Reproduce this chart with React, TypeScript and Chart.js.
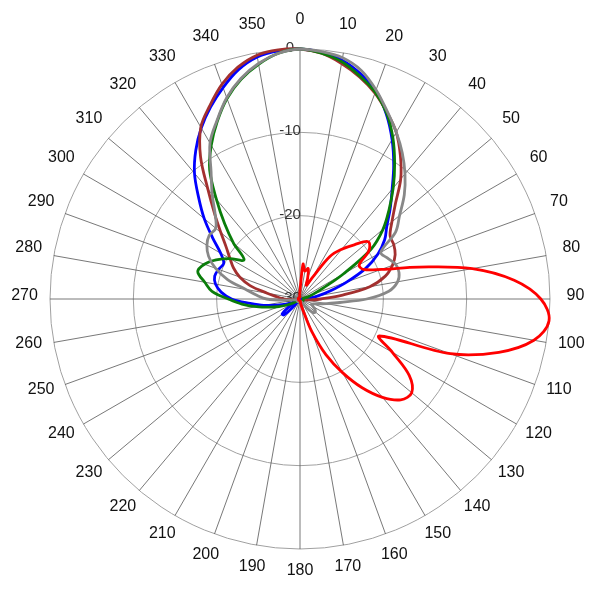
import React, { useEffect, useRef } from "react";
import { Chart, registerables } from "chart.js";

Chart.register(...registerables);

// Azimuth categories (degrees), every 5°
const ANGLES: number[] = Array.from({ length: 72 }, (_, i) => i * 5);

// Spoke labels every 10°
const ANGLE_LABELS: string[] = [
  "0", "10", "20", "30", "40", "50", "60", "70", "80", "90", "100", "110",
  "120", "130", "140", "150", "160", "170", "180", "190", "200", "210", "220", "230",
  "240", "250", "260", "270", "280", "290", "300", "310", "320", "330", "340", "350",
];

// Ring tick labels (dB)
const RING_TICKS: number[] = [0, -10, -20, -30];

// Series values (dB) at 0,5,10,...,355 degrees
const BLUE: number[] = [
  0, -0.3, -0.9, -2.0, -3.4, -5.5, -7.9, -10.4, -12.8, -14.7, -16.4, -17.6,
  -19.2, -21.3, -24.0, -26.2, -27.8, -28.9, -29.4, -29.6, -29.8, -29.8, -29.8, -29.8,
  -29.8, -29.8, -29.8, -29.8, -29.8, -29.8, -29.8, -29.8, -29.8, -29.8, -29.8, -29.8,
  -29.8, -29.8, -29.8, -29.8, -29.8, -29.8, -29.8, -29.8, -29.0, -27.3, -27.2, -28.4,
  -29.4, -29.0, -28.2, -27.2, -25.6, -24.0, -21.8, -20.5, -19.7, -19.4, -19.6, -19.9,
  -19.0, -17.2, -15.0, -12.8, -10.3, -8.2, -6.3, -4.6, -3.0, -1.5, -0.5, -0.1,
];

const GREEN: number[] = [
  0, -0.4, -1.1, -2.3, -3.6, -5.4, -7.7, -10.2, -12.6, -14.9, -17.0, -19.6,
  -24.0, -27.0, -28.3, -29.0, -29.6, -29.6, -29.6, -29.6, -29.6, -29.6, -29.6, -29.6,
  -29.6, -29.6, -29.6, -29.6, -29.6, -29.6, -29.6, -29.6, -29.6, -29.6, -29.6, -29.6,
  -29.6, -29.6, -29.6, -29.6, -29.6, -29.6, -29.6, -29.6, -29.6, -29.6, -29.6, -29.6,
  -29.0, -28.3, -27.3, -26.2, -24.7, -23.0, -21.4, -19.4, -18.4, -17.3, -17.8, -18.9,
  -20.3, -21.8, -19.6, -17.2, -14.4, -11.1, -8.7, -6.5, -4.4, -2.7, -1.4, -0.4,
];

const BROWN: number[] = [
  0, -0.4, -1.3, -2.4, -3.7, -5.3, -6.9, -9.0, -11.2, -13.8, -15.6, -16.8,
  -17.0, -17.4, -18.2, -19.4, -21.5, -25.0, -27.5, -28.7, -29.6, -29.6, -29.6, -29.6,
  -29.6, -29.6, -29.6, -29.6, -29.6, -29.6, -29.6, -29.6, -29.6, -29.6, -29.6, -29.6,
  -29.6, -29.6, -29.6, -29.6, -29.6, -29.6, -29.6, -29.6, -29.6, -29.6, -29.6, -29.6,
  -29.6, -29.6, -29.6, -29.6, -29.6, -29.0, -28.0, -27.3, -26.0, -23.8, -22.3, -21.2,
  -20.3, -19.2, -17.6, -15.5, -12.8, -9.2, -6.2, -4.4, -2.6, -1.2, -0.3, 0,
];

const GRAY: number[] = [
  0, -0.2, -0.6, -1.6, -3.3, -5.2, -6.9, -8.6, -10.4, -12.3, -14.4, -16.0,
  -18.8, -18.4, -17.8, -17.7, -18.1, -19.3, -22.0, -25.2, -26.8, -27.7, -28.3, -28.5,
  -28.2, -27.8, -27.6, -27.7, -28.3, -29.0, -29.6, -29.6, -29.6, -29.6, -29.6, -29.6,
  -29.6, -29.6, -29.6, -29.6, -29.6, -29.6, -29.6, -29.6, -29.6, -29.6, -29.6, -29.6,
  -29.6, -29.6, -29.6, -29.6, -29.6, -28.5, -26.0, -24.8, -23.4, -21.0, -19.2, -17.9,
  -17.1, -16.7, -16.8, -15.6, -13.6, -11.4, -8.4, -6.4, -4.3, -2.6, -1.3, -0.4,
];

const RED: number[] = [
  -29.0, -25.8, -26.6, -26.2, -27.3, -28.2, -27.0, -23.8, -22.2, -20.8, -19.3, -19.9,
  -21.8, -21.6, -19.6, -15.2, -9.0, -4.2, -1.1, 0, -1.5, -5.3, -10.8, -19.5,
  -17.2, -14.0, -12.5, -12.9, -14.6, -17.0, -19.8, -22.6, -25.8, -28.5, -29.3, -29.8,
  -29.8, -29.8, -29.8, -29.8, -29.8, -29.8, -29.8, -29.8, -29.8, -29.8, -29.8, -29.8,
  -29.8, -29.8, -29.8, -29.8, -29.8, -29.8, -29.8, -29.8, -29.8, -29.8, -29.8, -29.8,
  -29.8, -29.8, -29.8, -29.8, -29.8, -29.8, -29.8, -29.8, -29.8, -29.8, -29.8, -29.6,
];

const FONT_FAMILY = '"Liberation Sans", Arial, Helvetica, sans-serif';

const labelPlugin = {
  id: "polarLabels",
  beforeDatasetsDraw(chart: any) {
    const s = chart.scales.r;
    const ctx = chart.ctx;
    ctx.save();
    ctx.font = `15px ${FONT_FAMILY}`;
    ctx.fillStyle = "#333333";
    ctx.textAlign = "center";
    ctx.textBaseline = "middle";
    RING_TICKS.forEach((v) => {
      const p = s.getPointPositionForValue(0, v);
      ctx.fillText(String(v), p.x - 10, p.y - 1);
    });
    ctx.restore();
  },
  afterDraw(chart: any) {
    const s = chart.scales.r;
    const ctx = chart.ctx;
    ctx.save();
    ctx.font = `16px ${FONT_FAMILY}`;
    ctx.fillStyle = "#111111";
    ctx.textAlign = "center";
    ctx.textBaseline = "middle";
    ANGLE_LABELS.forEach((lab, k) => {
      const p = s.getPointPosition(k * 2, s.drawingArea + 25.5);
      ctx.fillText(lab, p.x, p.y - 3.5);
    });
    ctx.restore();
  },
};

export default function App() {
  const ref = useRef<HTMLCanvasElement | null>(null);

  useEffect(() => {
    if (!ref.current) return;
    const mk = (label: string, data: number[], color: string) => ({
      label,
      data,
      borderColor: color,
      backgroundColor: color,
      borderWidth: 2.8,
      pointRadius: 0,
      fill: false,
      tension: 0.35,
    });
    const chart = new Chart(ref.current, {
      type: "radar",
      data: {
        labels: ANGLES.map(String),
        datasets: [
          mk("Red", RED, "#ff0000"),
          mk("Gray", GRAY, "#888888"),
          mk("Green", GREEN, "#0a7d0a"),
          mk("Brown", BROWN, "#a3302f"),
          mk("Blue", BLUE, "#0000ff"),
        ],
      },
      options: {
        responsive: false,
        animation: false,
        layout: { padding: { left: 50, right: 49, top: 49, bottom: 50 } },
        plugins: { legend: { display: false }, tooltip: { enabled: false } },
        scales: {
          r: {
            min: -30,
            max: 0,
            startAngle: 0,
            ticks: { stepSize: 10, display: false },
            pointLabels: { display: false },
            grid: { circular: true, color: "#a0a0a0", lineWidth: 1 },
            angleLines: {
              display: true,
              color: (c: any) => (c.index % 2 === 0 ? "#555555" : "rgba(0,0,0,0)"),
              lineWidth: (c: any) => (c.index % 2 === 0 ? 0.8 : 0),
            },
          },
        },
      },
      plugins: [labelPlugin],
    });
    return () => chart.destroy();
  }, []);

  return (
    <div style={{ position: "absolute", left: 0, top: 0, width: 600, height: 600, background: "#fff" }}>
      <canvas ref={ref} width={600} height={600} style={{ display: "block" }} />
    </div>
  );
}
